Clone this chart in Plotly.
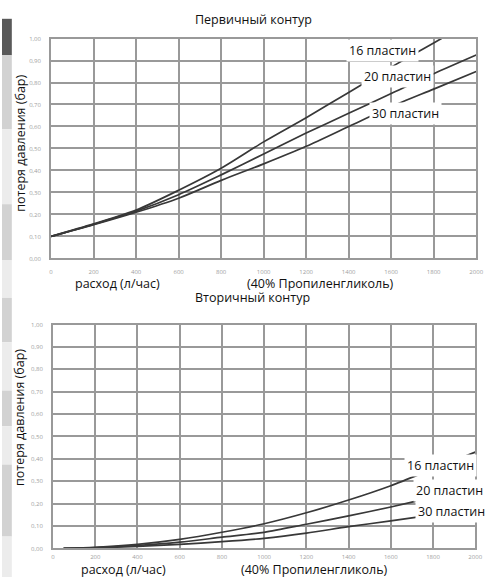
import plotly.graph_objects as go

# ---------------- data ----------------
flow_primary = [0, 200, 400, 600, 800, 1000, 1200, 1400, 1600, 1800, 2000]
prim_16 = [0.10, 0.157, 0.22, 0.31, 0.41, 0.53, 0.64, 0.755, 0.87, 0.98, 1.09]
prim_20 = [0.10, 0.155, 0.215, 0.29, 0.38, 0.475, 0.57, 0.66, 0.75, 0.84, 0.925]
prim_30 = [0.10, 0.153, 0.21, 0.274, 0.355, 0.43, 0.51, 0.60, 0.69, 0.77, 0.85]

flow_secondary = [50, 200, 400, 600, 800, 1000, 1200, 1400, 1600, 1800, 2000]
sec_16 = [0.0, 0.005, 0.018, 0.04, 0.072, 0.11, 0.159, 0.216, 0.28, 0.355, 0.43]
sec_20 = [0.0, 0.004, 0.013, 0.028, 0.05, 0.072, 0.108, 0.145, 0.185, 0.228, 0.27]
sec_30 = [0.0, 0.003, 0.009, 0.018, 0.03, 0.045, 0.068, 0.097, 0.123, 0.15, 0.175]

series_names = ["16 пластин", "20 пластин", "30 пластин"]

x_tickvals = [0, 200, 400, 600, 800, 1000, 1200, 1400, 1600, 1800, 2000]
x_ticktext = ["0", "200", "400", "600", "800", "1000", "1200", "1400", "1600", "1800", "2000"]
y_tickvals = [0.0, 0.1, 0.2, 0.3, 0.4, 0.5, 0.6, 0.7, 0.8, 0.9, 1.0]
y_ticktext = ["0,00", "0,10", "0,20", "0,30", "0,40", "0,50", "0,60", "0,70", "0,80", "0,90", "1,00"]

titles = ["Первичный контур", "Вторичный контур"]
y_title = "потеря давления (бар)"
x_title = "расход (л/час)"
fluid = "(40% Пропиленгликоль)"

# ---------------- layout helpers ----------------
W, H = 494, 581
def px(x):
    return x / W
def py(y):
    return 1 - y / H

FONT = "Open Sans"
LINE_COL = "#383838"
GRID_COL = "#999999"

fig = go.Figure()

for ys, xa, ya in [((prim_16, prim_20, prim_30), "x", "y"), ((sec_16, sec_20, sec_30), "x2", "y2")]:
    xs = flow_primary if xa == "x" else flow_secondary
    for name, yv in zip(series_names, ys):
        fig.add_trace(go.Scatter(x=xs, y=yv, mode="lines", name=name, xaxis=xa, yaxis=ya,
                                 line=dict(color=LINE_COL, width=1.7, shape="spline", smoothing=0.8),
                                 showlegend=False, hoverinfo="skip"))

axis_common = dict(showgrid=True, gridcolor=GRID_COL, gridwidth=1.8, showline=True, linecolor=GRID_COL,
                   linewidth=1.8, mirror=True, zeroline=False, ticks="",
                   tickfont=dict(family=FONT, size=6, color="#a0a0a0"))

fig.update_layout(
    width=W, height=H, margin=dict(l=0, r=0, t=0, b=0),
    paper_bgcolor="white", plot_bgcolor="white",
    xaxis=dict(domain=[px(50), px(483)], range=[0, 2000], anchor="y", tickvals=x_tickvals,
               ticktext=x_ticktext, ticklabelstandoff=6, **axis_common),
    yaxis=dict(domain=[py(258), py(35)], range=[0, 1.0], anchor="x", tickvals=y_tickvals,
               ticktext=y_ticktext, ticklabelstandoff=7, **axis_common),
    xaxis2=dict(domain=[px(52), px(482)], range=[0, 2000], anchor="y2", tickvals=x_tickvals,
                ticktext=x_ticktext, ticklabelstandoff=2, **axis_common),
    yaxis2=dict(domain=[py(552), py(325)], range=[0, 1.0], anchor="x2", tickvals=y_tickvals,
                ticktext=y_ticktext, ticklabelstandoff=7, **axis_common),
)

# left page strip (scan background)
strip = [(15, 52, "#595959"), (52, 127, "#d2d2d2"), (127, 203, "#ececec"), (203, 260, "#d2d2d2"),
         (260, 298, "#ececec"), (298, 343, "#d2d2d2"), (343, 392, "#ececec"), (392, 428, "#d2d2d2"),
         (428, 467, "#ececec"), (467, 540, "#d2d2d2"), (540, 581, "#ececec")]
for y0, y1, c in strip:
    fig.add_shape(type="rect", xref="paper", yref="paper", x0=0, x1=px(10), y0=py(y1), y1=py(y0),
                  fillcolor=c, line=dict(width=0), layer="below")

ann = []
def text(x, y, s, size=12, **kw):
    d = dict(x=px(x), y=py(y), xref="paper", yref="paper", text=s, showarrow=False,
             font=dict(family=FONT, size=size, color="#111"), xanchor="center", yanchor="middle")
    d.update(kw)
    ann.append(d)

# titles
text(256, 16, titles[0], size=12.5)
text(255, 298, titles[1], size=12.5)
# y titles
text(18, 141, y_title, size=12.5, textangle=-90)
text(18, 419, y_title, size=12.5, textangle=-90)
# x titles
text(118, 283, x_title, size=12.5)
text(324, 283, fluid, size=12.5)
text(124, 573, x_title, size=12.5, borderpad=0)
text(318, 573, fluid, size=12.5, borderpad=0)

# series labels with white boxes covering lines
label_pos_top = [(388, 47), (403, 74), (411, 111)]
label_pos_bot = [(447, 468), (456, 493), (458, 515)]
for s, (x, y) in zip(series_names, label_pos_top):
    text(x, y, s, size=12.5, bgcolor="white", borderpad=2)
for s, (x, y) in zip(series_names, label_pos_bot):
    text(x, y, s, size=12.5, bgcolor="white", borderpad=2)

fig.update_layout(annotations=ann)

fig.write_html("out.html", config={"displayModeBar": False},
               post_script="document.body.style.margin='0';document.body.style.padding='0';")
